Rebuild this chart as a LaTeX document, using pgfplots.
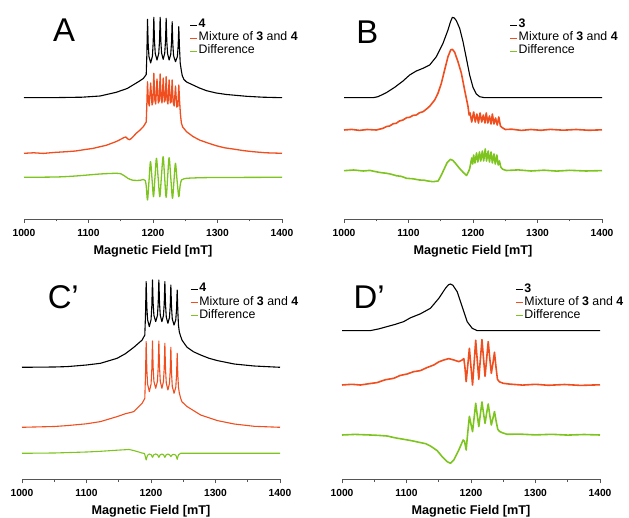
\documentclass[border=0pt]{standalone}
\usepackage{fontspec}
\setmainfont{Liberation Sans}
\usepackage{pgfplots}
\pgfplotsset{compat=1.18}

\definecolor{axgray}{HTML}{555555}
\definecolor{mixred}{HTML}{F04E1E}
\definecolor{diffgreen}{HTML}{7DC41F}

% one panel: x in mT, y in bp above the axis line
\pgfplotsset{
  epr/.style={
    anchor=south west,
    x=0.645bp, y=1bp,
    xmin=1000, xmax=1400, ymin=0, ymax=215,
    axis x line*=bottom, axis y line=none,
    clip=false,
    xtick={1000,1100,1200,1300,1400},
    xticklabels={1000,1100,1200,1300,1400},
    minor xtick={1050,1150,1250,1350},
    tick align=outside,
    major tick length=4bp, minor tick length=2.5bp,
    every tick/.style={axgray, line width=0.8bp},
    axis line style={axgray, line width=0.8bp},
    xticklabel style={font=\fontsize{10.3}{11}\selectfont\bfseries, anchor=base, yshift=-13.2bp},
    xlabel={Magnetic Field [mT]},
    xlabel style={font=\fontsize{12.7}{14}\selectfont\bfseries, at={(axis description cs:0.5,0)}, anchor=base, yshift=-35.5bp},
    legend style={draw=none, fill=none, font=\fontsize{12.4}{14}\selectfont,
      anchor=north west, inner sep=0pt, row sep=0.6bp, nodes={inner sep=1bp},
      /tikz/every even column/.style={column sep=1.5bp}},
    legend cell align=left,
    legend image code/.code={\draw[##1, line width=1.4bp, line cap=butt] (0bp,-1.2bp) -- (7bp,-1.2bp);},
    every axis plot/.append style={line width=1.1bp, line join=round},
  },
  noisy/.style={line width=1.6bp},
}
\tikzset{lbl/.style={font=\fontsize{33}{36}\selectfont, anchor=center}}

\begin{document}
\begin{tikzpicture}
\useasboundingbox (0,0) rectangle (629bp,518bp);

% ---------------- A ----------------
\begin{axis}[epr, at={(24bp,299bp)}, legend style={at={(axis cs:1256,201)}}]
\addplot[black] coordinates {
 (1000,121.3) (1050,121.4) (1090,121.8) (1118,123) (1143,126.7) (1160,130.5) (1169,134)
 (1178,137.5) (1185,140.5) (1189.5,144.5) (1190.5,165)
 (1191.5,199.7) (1192.5,175.7) (1193.7,162.6) (1196.4,156)
 (1199.1,162.9) (1200.3,176.6) (1201.3,201.7) (1202.3,178.2) (1203.5,165.4) (1206.2,159)
 (1208.9,165.4) (1210.1,178.2) (1211.1,201.7) (1212.1,178.6) (1213.3,166) (1215.8,159.7)
 (1218.2,165.9) (1219.4,178.2) (1220.4,200.7) (1221.4,177.8) (1222.6,165.3) (1225,159)
 (1227.5,164.7) (1228.7,176.2) (1229.7,197.3) (1230.7,175.3) (1231.9,163.3) (1234.9,157.3)
 (1237.8,162.5) (1239,173) (1240,192.3) (1241,172) (1242.2,156) (1244,148) (1245.5,143)
 (1248,139.5) (1252,137) (1262,134) (1272,131) (1283,128.3) (1298,126) (1314,124.5)
 (1345,122.7) (1370,121.8) (1400,121.3)
};
\addlegendentry{\textbf{4}}
\addplot[mixred, line width=1.3bp] coordinates {
 (1000,65.7) (1015,66.2) (1030,65.6) (1048,66.6) (1066,67.3) (1080,68) (1095,69.5) (1107,70.6)
 (1118,72.3) (1127,73.6) (1135,75.5) (1142,77.2) (1148,79) (1155,81.5)
 (1158,82) (1161,80) (1164,79.3) (1168,81.5) (1174,85.7) (1180,89) (1185,92.3) (1189.5,97)
 (1190.5,115) (1191.5,137.3) (1192.8,118) (1194.2,113) (1196.4,136) (1198.5,114) (1199.8,117)
 (1201.3,145.7) (1202.8,119) (1204.2,115) (1206.2,140) (1208.2,116) (1209.6,118) (1211.1,145)
 (1212.6,120) (1214,116) (1215.8,141) (1217.6,117) (1219,119) (1220.4,142.3) (1221.8,119)
 (1223.2,115) (1225,139) (1226.8,116) (1228.2,117) (1229.7,139) (1231.2,117) (1232.8,113)
 (1234.9,133) (1236.8,112) (1238.6,113) (1240,134) (1241.2,118) (1242.5,105) (1244,96)
 (1246,92) (1252,87.3) (1262,82.5) (1272,79) (1285,76) (1298,73.3) (1311,71.2) (1324,70)
 (1340,68.4) (1355,67.3) (1375,66.2) (1400,65.7)
};
\addlegendentry{Mixture of \textbf{3} and \textbf{4}}
\addplot[diffgreen, smooth, tension=0.5, line width=1.3bp] coordinates {
 (1000,41.7) (1050,42) (1080,43) (1118,45) (1143,45.7) (1151,45) (1156,43) (1161,40.7)
 (1169,38.7) (1180,38.7) (1185,39.5) (1188,38.5) (1189.5,33) (1191.5,19) (1193.8,38)
 (1196.1,57.3) (1198.5,40) (1200.8,22.3) (1203.1,42) (1205.4,60.7) (1208,41) (1210.6,22.3)
 (1213.1,43) (1215.7,62.3) (1218,42) (1220.4,21.7) (1222.7,42) (1225,61.3) (1227.6,41)
 (1230.2,20.7) (1232.5,38) (1234.8,55.7) (1237.4,38) (1240,22.3) (1242,33) (1244.1,39)
 (1248,40.2) (1252,40.7) (1270,41.2) (1300,41.5) (1400,41.7)
};
\addlegendentry{Difference}
\node[lbl] at (axis cs:1062,189) {A};
\end{axis}

% ---------------- B ----------------
\begin{axis}[epr, at={(344bp,299bp)}, legend style={at={(axis cs:1256,201)}}]
\addplot[black] coordinates {
 (1000,121.3) (1045,121.3) (1052.7,122.3) (1065.6,126.3) (1078.6,131.7) (1091.5,138)
 (1101.8,144) (1112.1,148) (1122.5,150.7) (1132.8,154) (1143.2,162.3) (1153.5,175.7)
 (1161.2,189) (1165,197) (1168,201.7) (1171,201) (1174.2,198.3) (1179.3,190.7) (1184.5,177.3)
 (1189.7,160.7) (1194.8,144) (1200,131.7) (1205.2,125) (1210.3,122.3) (1218,121.3) (1400,121.3)
};
\addlegendentry{\textbf{3}}
\addplot[mixred, noisy] coordinates {
 (1000,89) (1012,89.6) (1024,88.6) (1036,89.5) (1050,89) (1060.5,90.7) (1066,92.5) (1070.8,93)
 (1076,95.2) (1081,95.7) (1086,98) (1091.5,99) (1097,101.3) (1101.8,101.7) (1107,103.6)
 (1112,104) (1117,106.2) (1122.5,107.3) (1128,110) (1132.8,112.7) (1140.6,119) (1145.7,125.7)
 (1150.9,135.7) (1156,149) (1161.2,162.3) (1165.4,169) (1168,169.7) (1171.6,166.7) (1176.7,157.3)
 (1182,145.7) (1187,129) (1192.2,112.7) (1194,104) (1195.5,106) (1198,97) (1201,107)
 (1203.5,97) (1206,105) (1208.5,96) (1211,106) (1213.5,97) (1216,104) (1218.5,96)
 (1220.5,106) (1223,96) (1225.5,103) (1228,95) (1230,105) (1232.5,95) (1235,101)
 (1237.5,94) (1240,102) (1242.5,93) (1245,91.5) (1250,89.5) (1260,89.8) (1275,88.6)
 (1290,89.5) (1305,88.7) (1320,89.6) (1340,88.8) (1360,89.5) (1380,88.7) (1400,89.2)
};
\addlegendentry{Mixture of \textbf{3} and \textbf{4}}
\addplot[diffgreen, noisy] coordinates {
 (1000,48.3) (1015,49) (1030,48) (1040,48.6) (1048,47.5) (1056,46.5) (1066,45.7) (1073,44.8)
 (1081,43.3) (1089,42.6) (1097,40.7) (1107,40.2) (1117,39) (1124,38.8) (1130,38) (1138,37.3)
 (1146,38) (1151,44) (1156,51) (1160,56.5) (1165,59.7)
 (1169,58.5) (1173,55.5) (1179,50.7) (1185,46.5) (1190,43.5) (1192,46) (1193.5,48)
 (1195,50.7) (1196.5,56) (1198,61) (1199.5,55) (1201,64) (1203,56) (1205.5,66) (1207.5,57)
 (1210,67) (1212,58) (1214.5,68) (1216.5,58) (1219,70) (1221,58) (1223.5,68) (1225.5,57)
 (1228,67) (1230,56) (1232.5,65) (1234.5,55) (1237,64) (1239,54) (1241,58) (1243,52)
 (1246,49.7) (1252,48.5) (1270,49.1) (1290,48) (1310,48.8) (1330,47.9) (1350,48.7)
 (1375,48) (1400,48.4)
};
\addlegendentry{Difference}
\node[lbl] at (axis cs:1036,187) {B};
\end{axis}

% ---------------- C' ----------------
\begin{axis}[epr, at={(22bp,38.7bp)}, legend style={at={(axis cs:1260,197)}}]
\addplot[black] coordinates {
 (1000,112) (1050,112.3) (1070,112.7) (1100,114.3) (1121.6,116) (1147.5,121) (1160,125.5)
 (1173.4,132) (1186.3,139.3) (1190.4,144.3) (1191.5,165)
 (1192.5,197.7) (1193.5,172.9) (1194.7,159.5) (1197.4,152.7)
 (1200.1,159.7) (1201.3,173.7) (1202.3,199.3) (1203.3,176.4) (1204.5,163.9) (1207.3,157.7)
 (1210,163.9) (1211.2,176.4) (1212.2,199.3) (1213.2,176.4) (1214.4,163.9) (1216.9,157.7)
 (1219.3,163.7) (1220.5,175.7) (1221.5,197.7) (1222.5,174.8) (1223.7,162.3) (1226.2,156)
 (1228.6,161.7) (1229.8,173.2) (1230.8,194.3) (1231.8,172.3) (1233,160.3) (1235.7,154.3)
 (1238.4,159.5) (1239.6,170.1) (1240.6,189.3) (1241.6,168) (1242.6,154) (1244,147)
 (1246,143) (1248,139.3) (1252,135.5) (1256,132) (1266,127.5) (1277,124.3) (1290,121)
 (1303,118.7) (1329,115.3) (1360,113.3) (1400,112)
};
\addlegendentry{\textbf{4}}
\addplot[mixred] coordinates {
 (1000,52) (1050,52.8) (1070,53.7) (1100,55.5) (1121.6,57.7) (1147.5,62.7) (1160,65.5)
 (1173.4,67.7) (1186.3,76) (1190.4,81) (1191.5,105)
 (1192.5,137.7) (1193.5,110.2) (1194.7,95.2) (1197.4,87.7)
 (1200.1,95.3) (1201.3,110.5) (1202.3,138.3) (1203.3,112.3) (1204.5,98.1) (1207.3,91)
 (1210,98.1) (1211.2,112.3) (1212.2,138.3) (1213.2,112.3) (1214.4,98.1) (1216.9,91)
 (1219.3,97.8) (1220.5,111.3) (1221.5,136) (1222.5,110.3) (1223.7,96.3) (1226.2,89.3)
 (1228.6,95.7) (1229.8,108.5) (1230.8,132) (1231.8,106.7) (1233,92.9) (1235.7,86)
 (1238.4,92) (1239.6,104) (1240.6,126) (1241.6,104) (1242.6,92) (1244,86) (1246,81)
 (1248,77.5) (1256,72.7) (1277,64.3) (1303,58.7) (1329,55.3) (1360,53) (1400,52)
};
\addlegendentry{Mixture of \textbf{3} and \textbf{4}}
\addplot[diffgreen] coordinates {
 (1000,26) (1050,26.3) (1100,27.3) (1122,28) (1145,29) (1158,29.5) (1166,29.8) (1173,28.8)
 (1180,27.5) (1186,26.3) (1190,25.8) (1192.5,19.3) (1194.5,24) (1197.4,25.3) (1200.3,24.5)
 (1202.3,22) (1204.3,24.5) (1207.3,25.3) (1210.2,24.5) (1212.2,22) (1214.2,24.5)
 (1216.9,25.3) (1219.5,24.5) (1221.5,22) (1223.5,24.5) (1226.2,25.3) (1228.8,24.5)
 (1230.8,22.7) (1232.8,24.5) (1235.7,25) (1238.6,24) (1240.6,20) (1242.6,24.5) (1246,26)
 (1300,26) (1400,26)
};
\addlegendentry{Difference}
\node[lbl] at (axis cs:1064,182.6) {C’};
\end{axis}

% ---------------- D' ----------------
\begin{axis}[epr, at={(342bp,38.7bp)}, legend style={at={(axis cs:1268,197)}}]
\addplot[black] coordinates {
 (1000,148.7) (1044,148.7) (1057,150.4) (1069.9,152.7) (1083,155) (1095.7,157.7) (1106.1,161.5)
 (1121.6,165.5) (1137.1,171) (1150.1,181) (1160.4,191) (1165,194.5) (1168.2,195.3) (1172,194)
 (1178.5,187.7) (1186.3,172.7) (1194,157.7) (1201.8,151) (1209.6,148.7) (1400,148.7)
};
\addlegendentry{\textbf{3}}
\addplot[mixred, noisy] coordinates {
 (1000,94.3) (1015,95) (1028.5,94.3) (1042,95.6) (1054.3,96.7) (1067,99.5) (1080.2,101)
 (1090,103.8) (1100.9,105.3) (1111,107.6) (1121.6,108.7) (1132,111.8) (1142.3,114.3)
 (1150,117.4) (1157.8,119.3) (1165.6,120.7) (1173.4,119.3) (1181.1,117.7) (1186.3,119.3)
 (1188.9,120.7) (1190.6,112) (1192.5,97.7) (1195,114) (1197.5,131) (1200,112) (1202.4,94.3)
 (1204.9,117) (1207.3,139) (1209.7,119) (1212.1,100) (1214.5,120) (1217,139.7) (1219.4,121)
 (1221.8,103) (1224.2,120) (1226.7,137.7) (1229.1,121) (1231.5,106) (1234,116) (1236.4,127)
 (1238.8,112) (1241,100) (1244,97.5) (1250,96) (1260,95.2) (1280,94.2) (1300,95)
 (1320,94) (1345,94.8) (1370,93.9) (1400,94.5)
};
\addlegendentry{Mixture of \textbf{3} and \textbf{4}}
\addplot[diffgreen, noisy] coordinates {
 (1000,44.3) (1020,44.9) (1044,44.3) (1057,43.9) (1069.9,43.3) (1083,41.4) (1095.7,40)
 (1108,38.6) (1121.6,36.7) (1130,35.6) (1137.1,33.3) (1147.5,28.7)
 (1155.2,22.7) (1163,17.7) (1168.2,16) (1173.4,19.3) (1181.1,29.3) (1187.8,39.3) (1190,38)
 (1192.5,29.3) (1195,47) (1197.5,63) (1200,55) (1202.4,47.7) (1204.9,62) (1207.3,76)
 (1209.7,64) (1212.1,52.7) (1214.5,65) (1217,77.3) (1219.4,66) (1221.8,56) (1224.2,66)
 (1226.7,75.3) (1229.1,64) (1231.5,54.3) (1234,61) (1236.4,67.7) (1239,58) (1241.5,50)
 (1244,48) (1248,46.7) (1256,45) (1275,45.2) (1300,44.4) (1325,45) (1350,44.2)
 (1375,44.8) (1400,44.3)
};
\addlegendentry{Difference}
\node[lbl] at (axis cs:1042,182.6) {D’};
\end{axis}
\end{tikzpicture}
\end{document}
